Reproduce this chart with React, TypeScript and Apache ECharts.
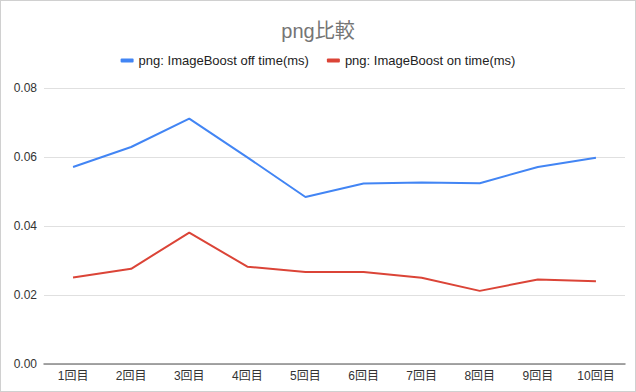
import React, { useEffect, useRef } from "react";
import * as echarts from "echarts";

const categories = ["1回目", "2回目", "3回目", "4回目", "5回目", "6回目", "7回目", "8回目", "9回目", "10回目"];
const offValues = [0.0571, 0.0629, 0.0711, 0.0599, 0.0484, 0.0523, 0.0526, 0.0524, 0.0571, 0.0598];
const onValues = [0.0251, 0.0276, 0.0381, 0.0282, 0.0267, 0.0267, 0.0250, 0.0212, 0.0245, 0.0240];
const seriesNames = ["png: ImageBoost off time(ms)", "png: ImageBoost on time(ms)"];
const yTicks = { min: 0, max: 0.08, interval: 0.02 };

export default function App() {
  const ref = useRef<HTMLDivElement>(null);
  useEffect(() => {
    if (!ref.current) return;
    const chart = echarts.init(ref.current, null, { renderer: "svg" });
    const font = "Arial, 'Liberation Sans', 'Noto Sans CJK JP', sans-serif";
    chart.setOption({
      animation: false,
      backgroundColor: "#ffffff",
      textStyle: { fontFamily: font },
      title: {
        text: "png比較",
        left: "center",
        top: 15,
        textStyle: { fontSize: 20, fontWeight: "normal", color: "#757575", fontFamily: font },
      },
      legend: {
        top: 48,
        left: "center",
        itemWidth: 13,
        itemHeight: 4,
        itemGap: 18,
        icon: "roundRect",
        textStyle: { fontSize: 13, color: "#222222", fontFamily: font },
        data: seriesNames,
      },
      grid: { left: 43, right: 10, top: 87, bottom: 27, containLabel: false },
      xAxis: {
        type: "category",
        data: categories,
        boundaryGap: true,
        axisLine: { lineStyle: { color: "#888888", width: 1.5 } },
        axisTick: { show: false },
        axisLabel: { color: "#333333", fontSize: 12, margin: 6, fontFamily: font },
      },
      yAxis: {
        type: "value",
        min: yTicks.min,
        max: yTicks.max,
        interval: yTicks.interval,
        axisLine: { show: false },
        axisTick: { show: false },
        splitLine: { lineStyle: { color: "#e0e0e0", width: 1 } },
        axisLabel: {
          color: "#333333",
          fontSize: 12,
          margin: 7,
          fontFamily: font,
          formatter: (v: number) => v.toFixed(2),
        },
      },
      series: [
        {
          name: seriesNames[0],
          type: "line",
          data: offValues,
          showSymbol: false,
          symbol: "none",
          lineStyle: { color: "#4285f4", width: 2 },
          itemStyle: { color: "#4285f4" },
        },
        {
          name: seriesNames[1],
          type: "line",
          data: onValues,
          showSymbol: false,
          symbol: "none",
          lineStyle: { color: "#db4437", width: 2 },
          itemStyle: { color: "#db4437" },
        },
      ],
    });
    return () => chart.dispose();
  }, []);
  return (
    <div
      style={{
        position: "absolute",
        left: 0,
        top: 0,
        width: 636,
        height: 392,
        boxSizing: "border-box",
        border: "1px solid #d0d0d0",
        background: "#fff",
        overflow: "hidden",
      }}
    >
      <div ref={ref} style={{ width: 634, height: 390 }} />
    </div>
  );
}
